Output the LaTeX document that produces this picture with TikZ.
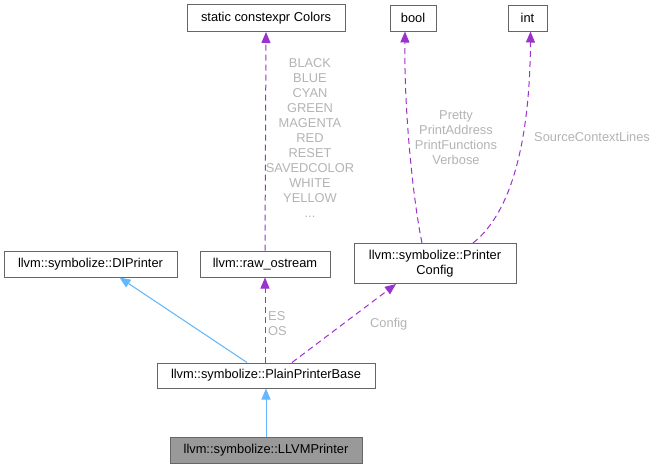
\documentclass[tikz,border=0pt]{standalone}
\usepackage{fontspec}
\setmainfont{Liberation Sans}
\usetikzlibrary{arrows.meta,calc}
\definecolor{edgepurple}{HTML}{9A32CD}
\definecolor{edgeblue}{HTML}{63B8FF}
\definecolor{boxborder}{HTML}{666666}
\definecolor{lblgray}{HTML}{B4B4B4}
\definecolor{curfill}{HTML}{999999}
\begin{document}
\begin{tikzpicture}[x=1pt,y=-1pt,
  box/.style={draw=boxborder,line width=1pt,fill=white,inner sep=0pt,align=center,
    font=\fontsize{12.85}{15}\selectfont},
  cur/.style={box,fill=curfill},
  dep/.style={draw=edgepurple,line width=1pt,dash pattern=on 6pt off 4pt,
    -{Triangle[length=11pt,width=9pt,fill=edgepurple]}},
  inh/.style={draw=edgeblue,line width=1pt,
    -{Triangle[length=11pt,width=9pt,fill=edgeblue]}},
  lbl/.style={text=lblgray,inner sep=0pt,align=center,
    font=\fontsize{12.85}{15}\selectfont}]
\useasboundingbox (0,0) rectangle (658,469);
\fill[white] (0,0) rectangle (658,469);
% nodes
\node[box,minimum width=158pt,minimum height=27pt] (colors) at (266,18) {static constexpr Colors};
\node[box,minimum width=46pt,minimum height=26pt] (bool) at (413,18) {bool};
\node[box,minimum width=39pt,minimum height=26pt] (int) at (527.5,18) {int};
\node[box,minimum width=173pt,minimum height=26pt] (dip) at (90.5,264) {llvm::symbolize::DIPrinter};
\node[box,minimum width=130pt,minimum height=26pt] (raw) at (265,264) {llvm::raw\_ostream};
\node[box,minimum width=162pt,minimum height=40pt] (pc) at (435,263.5) {llvm::symbolize::Printer\\Config};
\node[box,minimum width=218pt,minimum height=25pt] (ppb) at (266,375.5) {llvm::symbolize::PlainPrinterBase};
\node[cur,minimum width=192pt,minimum height=26pt] (llvm) at (266,450) {llvm::symbolize::LLVMPrinter};
% edges
\draw[inh] (llvm.north) -- (ppb.south);
\draw[inh] ([xshift=-19pt]ppb.north) -- ([xshift=29pt]dip.south);
\draw[dep] ([xshift=-1pt]ppb.north) -- (raw.south);
\draw[dep] ([xshift=26pt]ppb.north) -- ([xshift=-39pt]pc.south);
\draw[dep] (raw.north) -- (colors.south);
\draw[dep] ([xshift=-13pt]pc.north) .. controls (413,200) and (404,110) .. ([xshift=-8pt]bool.south);
\draw[dep] ([xshift=38pt]pc.north) .. controls (515,210) and (530,130) .. ([xshift=3pt]int.south);
% labels
\node[lbl] (lcolors) at (310,138) {BLACK\\BLUE\\CYAN\\GREEN\\MAGENTA\\RED\\RESET\\SAVEDCOLOR\\WHITE\\YELLOW\\...};
\node[lbl] (lbool) at (456,137.5) {Pretty\\PrintAddress\\PrintFunctions\\Verbose};
\node[lbl,anchor=west] (lint) at (534,137) {SourceContextLines};
\node[lbl,align=left,anchor=west] (les) at (268,324) {ES\\OS};
\node[lbl,anchor=west] (lcfg) at (370,324) {Config};
\end{tikzpicture}
\end{document}
